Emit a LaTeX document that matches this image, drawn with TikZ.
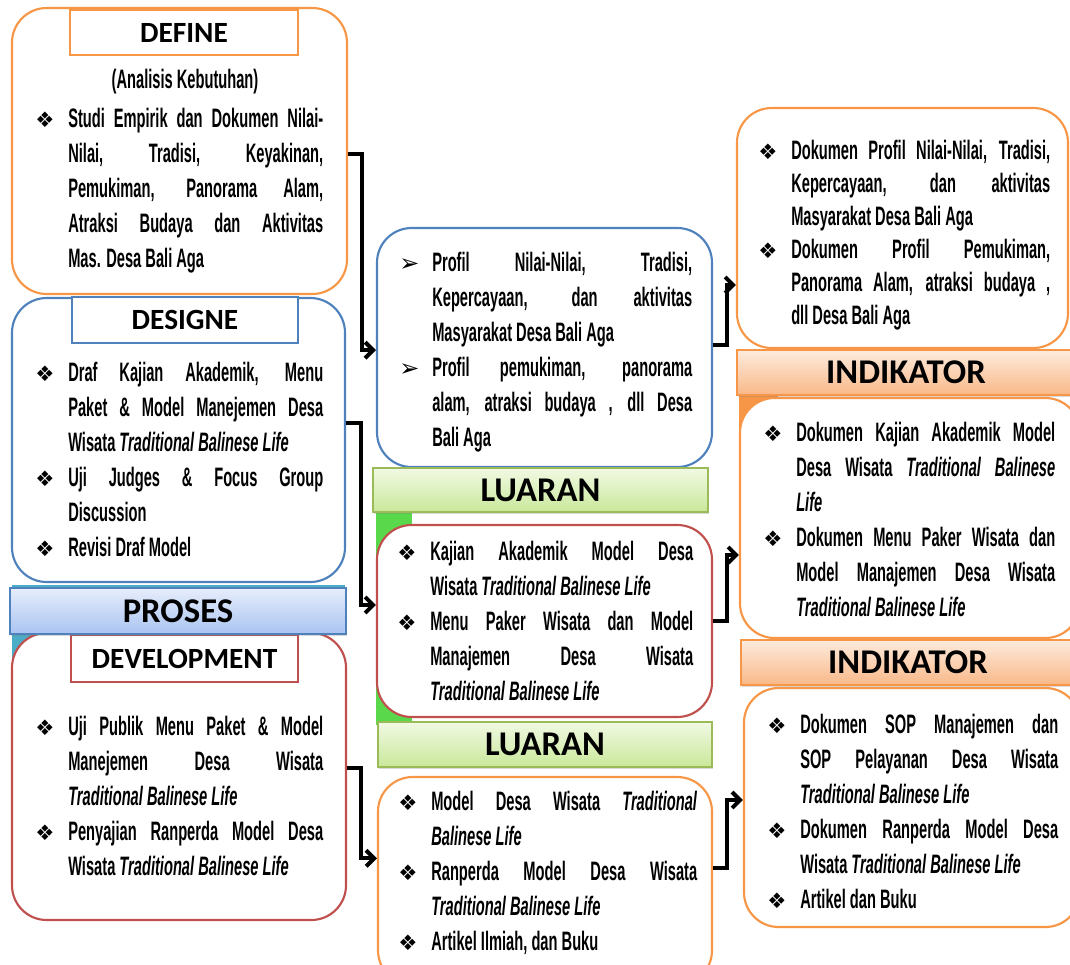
\documentclass[tikz,border=0pt]{standalone}
\usepackage{fontspec}
\setmainfont{Liberation Sans}[FakeStretch=0.55]
\newfontfamily\headfont{Carlito}
\newfontfamily\dingfont{DejaVu Sans}
\usetikzlibrary{arrows.meta, positioning, shadows}

\definecolor{boxorange}{HTML}{F79646}
\definecolor{boxblue}{HTML}{4F81BD}
\definecolor{boxred}{HTML}{C0504D}
\definecolor{boxgreen}{HTML}{9BBB59}
\definecolor{tealband}{HTML}{4BACC6}
\definecolor{limeband}{HTML}{5AD84C}
\definecolor{proTop}{HTML}{E6EDFB}
\definecolor{proBot}{HTML}{A9C4F1}
\definecolor{luaTop}{HTML}{F1F9E3}
\definecolor{luaBot}{HTML}{C9E89A}
\definecolor{indTop}{HTML}{FDEBDD}
\definecolor{indBot}{HTML}{F9B888}

% bullet lines with hanging indent
\newcommand{\dia}[1]{\par\noindent\hangindent=24.75pt\hangafter=1\makebox[24.75pt][l]{\dingfont\fontsize{16}{16}\selectfont ❖}\strut#1\par}
\newcommand{\tip}[1]{\par\noindent\hangindent=24.75pt\hangafter=1\makebox[24.75pt][l]{\dingfont\fontsize{18}{18}\selectfont ➢}\strut#1\par}
\newcommand{\tbl}{\textit{Traditional Balinese Life}}

\begin{document}
\begin{tikzpicture}[x=0.75pt, y=-0.75pt,
    panel/.style={draw, line width=1.6pt, rounded corners=26pt, fill=white, inner sep=0pt},
    tag/.style={draw, line width=1.6pt, fill=white, inner sep=0pt, font=\headfont\bfseries\fontsize{22}{22}\selectfont},
    banner/.style={draw, line width=0.8pt, inner sep=0pt, font=\headfont\bfseries\fontsize{26}{26}\selectfont,
        drop shadow={opacity=0.3, shadow xshift=0.8pt, shadow yshift=-1.6pt}},
    txt/.style={anchor=north west, inner sep=0pt, align=justify, font=\bfseries\fontsize{20}{26.25}\selectfont},
    conn/.style={line width=3pt, -{Straight Barb[length=6pt, width=12pt]}}]
    \useasboundingbox (0,0) rectangle (1070,964);

    % bands behind the boxes
    \fill[tealband] (12,585) rectangle (345,600);
    \fill[tealband] (12,585) rectangle (50,700);
    \fill[limeband] (376,505) rectangle (412,725);
    \fill[boxorange] (739,390) rectangle (778,470);

    % PROSES column
    \node[panel, draw=boxorange, minimum width=251.25pt, minimum height=214.5pt] (define) at (179.5,151) {};
    \node[panel, draw=boxblue, minimum width=249.75pt, minimum height=213pt] (designe) at (178.5,440) {};
    \node[panel, draw=boxred, minimum width=250.5pt, minimum height=215.25pt] (develop) at (179,776.5) {};
    \node[tag, draw=boxorange, minimum width=171pt, minimum height=33.75pt] (defineTag) at (184,32.5) {DEFINE};
    \node[tag, draw=boxblue, minimum width=169.5pt, minimum height=34.5pt] (designeTag) at (185,320) {DESIGNE};
    \node[tag, draw=boxred, minimum width=170.25pt, minimum height=35.25pt] (developTag) at (184.5,658.5) {DEVELOPMENT};
    \node[banner, draw=boxblue, top color=proTop, bottom color=proBot, minimum width=252pt, minimum height=34.5pt] (proses) at (178,611) {PROSES};

    % LUARAN column
    \node[panel, draw=boxblue, minimum width=251.25pt, minimum height=179.25pt] (profil) at (544.5,347.5) {};
    \node[panel, draw=boxred, minimum width=251.25pt, minimum height=144pt] (kajian) at (544.5,621) {};
    \node[panel, draw=boxorange, minimum width=250.5pt, minimum height=156pt] (model) at (545,881) {};
    \node[banner, draw=boxgreen, top color=luaTop, bottom color=luaBot, minimum width=251.25pt, minimum height=33pt] (luaranA) at (540.5,490) {LUARAN};
    \node[banner, draw=boxgreen, top color=luaTop, bottom color=luaBot, minimum width=250.5pt, minimum height=33.75pt] (luaranB) at (545,744.5) {LUARAN};

    % INDIKATOR column
    \node[panel, draw=boxorange, minimum width=248.25pt, minimum height=180pt] (dokProfil) at (902.5,228) {};
    \node[panel, draw=boxorange, minimum width=255pt, minimum height=180pt] (dokKajian) at (910,518) {};
    \node[panel, draw=boxorange, minimum width=252pt, minimum height=179.25pt] (dokSop) at (912,807.5) {};
    \node[banner, draw=boxorange, top color=indTop, bottom color=indBot, minimum width=253.5pt, minimum height=33.75pt] (indikA) at (906,372.5) {INDIKATOR};
    \node[banner, draw=boxorange, top color=indTop, bottom color=indBot, minimum width=250.5pt, minimum height=33.75pt] (indikB) at (908,662.5) {INDIKATOR};

    % texts
    \node[font=\bfseries\fontsize{20}{26.25}\selectfont, inner sep=0pt] (defineSub) at (185,82) {(Analisis Kebutuhan)};
    \node[txt, text width=216pt] (defineTxt) at (35,92) {%
        \dia{Studi Empirik dan Dokumen Nilai-\linebreak Nilai, Tradisi, Keyakinan,\linebreak Pemukiman, Panorama Alam,\linebreak Atraksi Budaya dan Aktivitas\linebreak Mas. Desa Bali Aga}};
    \node[txt, text width=216pt] (designeTxt) at (35,346) {%
        \dia{Draf Kajian Akademik, Menu\linebreak Paket \& Model Manejemen Desa\linebreak Wisata \tbl}
        \dia{Uji Judges \& Focus Group\linebreak Discussion}
        \dia{Revisi Draf Model}};
    \node[txt, text width=216pt] (developTxt) at (35,700) {%
        \dia{Uji Publik Menu Paket \& Model\linebreak Manejemen Desa Wisata\linebreak \tbl}
        \dia{Penyajian Ranperda Model Desa\linebreak Wisata \tbl}};
    \node[txt, text width=219.75pt] (profilTxt) at (399,236) {%
        \tip{Profil Nilai-Nilai, Tradisi,\linebreak Kepercayaan, dan aktivitas\linebreak Masyarakat Desa Bali Aga}
        \tip{Profil pemukiman, panorama\linebreak alam, atraksi budaya , dll Desa\linebreak Bali Aga}};
    \node[txt, text width=222pt] (kajianTxt) at (397,525) {%
        \dia{Kajian Akademik Model Desa\linebreak Wisata \tbl}
        \dia{Menu Paker Wisata dan Model\linebreak Manajemen Desa Wisata\linebreak \tbl}};
    \node[txt, text width=224.25pt] (modelTxt) at (398,775) {%
        \dia{Model Desa Wisata \textit{Traditional}\linebreak \textit{Balinese Life}}
        \dia{Ranperda Model Desa Wisata\linebreak \tbl}
        \dia{Artikel Ilmiah, dan Buku}};
    \node[txt, text width=219pt, font=\bfseries\fontsize{20}{24.75}\selectfont] (dokProfilTxt) at (758,126) {%
        \dia{Dokumen Profil Nilai-Nilai, Tradisi,\linebreak Kepercayaan, dan aktivitas\linebreak Masyarakat Desa Bali Aga}
        \dia{Dokumen Profil Pemukiman,\linebreak Panorama Alam, atraksi budaya ,\linebreak dll Desa Bali Aga}};
    \node[txt, text width=219pt] (dokKajianTxt) at (763,406) {%
        \dia{Dokumen Kajian Akademik Model\linebreak Desa Wisata \textit{Traditional Balinese}\linebreak \textit{Life}}
        \dia{Dokumen Menu Paker Wisata dan\linebreak Model Manajemen Desa Wisata\linebreak \tbl}};
    \node[txt, text width=218.25pt] (dokSopTxt) at (767,698) {%
        \dia{Dokumen SOP Manajemen dan\linebreak SOP Pelayanan Desa Wisata\linebreak \tbl}
        \dia{Dokumen Ranperda Model Desa\linebreak Wisata \tbl}
        \dia{Artikel dan Buku}};

    % connectors
    \draw[conn] ([yshift=-2.25pt]define.east) -- ++(14,0) |- ([yshift=-2pt]profil.west);
    \draw[conn] ([yshift=12.75pt]designe.east) -- ++(15,0) |- ([yshift=12pt]kajian.west);
    \draw[conn] ([yshift=6.4pt]develop.east) -- ++(14,0) |- ([yshift=17pt]model.west);
    \draw[conn] ([yshift=2pt]profil.east) -- ++(14,0) |- ([yshift=-42.75pt]dokProfil.west);
    \draw[conn] (kajian.east) -- ++(14,0) |- ([yshift=-27.75pt]dokKajian.west);
    \draw[conn] ([yshift=9.75pt]model.east) -- ++(14,0) |- ([yshift=5.6pt]dokSop.west);
\end{tikzpicture}
\end{document}
